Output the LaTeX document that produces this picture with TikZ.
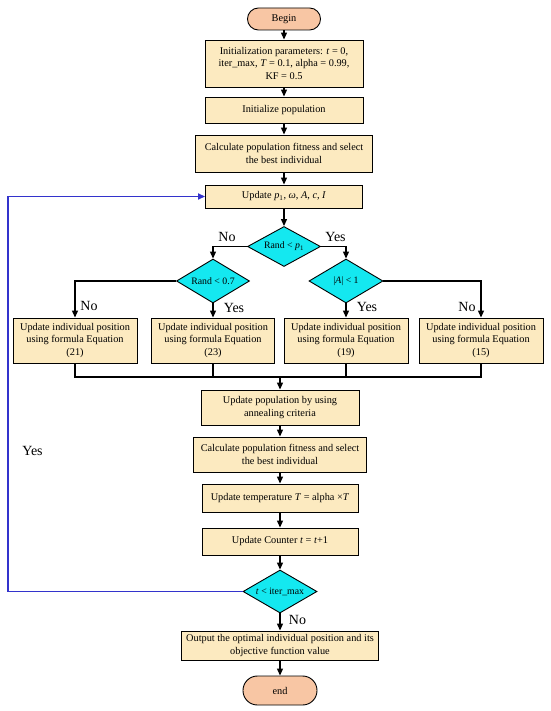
\documentclass[tikz,border=0pt]{standalone}
\usepackage{fontspec}
\setmainfont{Liberation Serif}
\usetikzlibrary{shapes.geometric,arrows.meta}
\definecolor{boxfill}{RGB}{252,234,192}
\definecolor{termfill}{RGB}{248,198,164}
\definecolor{decfill}{RGB}{20,232,240}
\definecolor{loopblue}{RGB}{51,51,204}
\begin{document}
\begin{tikzpicture}[x=1pt,y=-1pt,
  box/.style={draw=black, line width=0.9pt, fill=boxfill, align=center, inner sep=1pt, font=\fontsize{10.3}{12.5}\selectfont},
  term/.style={draw=black, line width=0.9pt, fill=termfill, rounded corners=10.9pt, inner sep=1pt, font=\fontsize{10.3}{12}\selectfont},
  dec/.style={diamond, aspect=1.8, draw=black, line width=0.9pt, fill=decfill, inner sep=0pt, font=\fontsize{9.8}{11}\selectfont},
  arr/.style={-{Triangle[length=7pt,width=6pt]}, line width=1.2pt},
  plain/.style={line width=1.2pt},
  lbl/.style={font=\fontsize{14}{16}\selectfont, inner sep=0pt},
]
\useasboundingbox (0,0) rectangle (550,711);

\node[term, minimum width=73pt, minimum height=22pt] (begin) at (284,19) {Begin};
\node[box, minimum width=158pt, minimum height=47pt] (init) at (284,63.5)
  {Initialization parameters: \textit{t} = 0,\\iter\_max, \textit{T} = 0.1, alpha = 0.99,\\KF = 0.5};
\node[box, minimum width=158pt, minimum height=26pt] (initpop) at (284,110) {Initialize population};
\node[box, minimum width=177pt, minimum height=37pt] (calc1) at (284,153.5)
  {Calculate population fitness and select\\the best individual};
\node[box, minimum width=157pt, minimum height=23pt] (upd) at (284,196.5)
  {Update \textit{p}\textsubscript{1}, \textit{ω}, \textit{A}, \textit{c}, \textit{I}};

\node[dec, minimum width=73pt, minimum height=40pt] (d1) at (284,246.5) {Rand < \textit{p}\textsubscript{1}};
\node[dec, minimum width=73pt, minimum height=44pt] (d2) at (213,281) {Rand < 0.7};
\node[dec, minimum width=74pt, minimum height=44pt] (d3) at (346,281) {|\textit{A}| < 1};

\node[box, minimum width=124pt, minimum height=45pt] (b1) at (75,340.5)
  {Update individual position\\using formula Equation\\(21)};
\node[box, minimum width=123pt, minimum height=45pt] (b2) at (213,340.5)
  {Update individual position\\using formula Equation\\(23)};
\node[box, minimum width=124pt, minimum height=45pt] (b3) at (346,340.5)
  {Update individual position\\using formula Equation\\(19)};
\node[box, minimum width=124pt, minimum height=45pt] (b4) at (481,340.5)
  {Update individual position\\using formula Equation\\(15)};

\coordinate (mg) at (280,377);

\node[box, minimum width=158pt, minimum height=35pt] (uppop) at (280,407.5)
  {Update population by using\\annealing criteria};
\node[box, minimum width=173pt, minimum height=35pt] (calc2) at (280,454.5)
  {Calculate population fitness and select\\the best individual};
\node[box, minimum width=156pt, minimum height=28pt] (temp) at (280,498)
  {Update temperature \textit{T} = alpha ×\textit{T}};
\node[box, minimum width=156pt, minimum height=27pt] (cnt) at (280,541.5)
  {Update Counter \textit{t} = \textit{t}+1};
\node[dec, minimum width=74pt, minimum height=43pt] (d4) at (280,591.5) {\textit{t} < iter\_max};
\node[box, minimum width=197pt, minimum height=29pt] (out) at (280,645.5)
  {Output the optimal individual position and its\\objective function value};
\node[term, minimum width=74pt, minimum height=29pt, rounded corners=14.4pt] (end) at (280,690.5) {end};

% main flow
\draw[arr] (begin) -- (init);
\draw[arr] (init) -- (initpop);
\draw[arr] (initpop) -- (calc1);
\draw[arr] (calc1) -- (upd);
\draw[arr] (upd) -- (d1);
\draw[arr] (d1.west) -| (d2.north);
\draw[arr] (d1.east) -| (d3.north);
\draw[arr] (d2.west) -| (b1.north);
\draw[arr] (d2.south) -- (b2.north);
\draw[arr] (d3.south) -- (b3.north);
\draw[arr] (d3.east) -| (b4.north);

\draw[plain] (b1.south) |- (b4.south |- mg) -- (b4.south);
\draw[plain] (b2.south) -- (b2.south |- mg);
\draw[plain] (b3.south) -- (b3.south |- mg);
\draw[arr] (mg) -- (uppop.north);

\draw[arr] (uppop) -- (calc2);
\draw[arr] (calc2) -- (temp);
\draw[arr] (temp) -- (cnt);
\draw[arr] (cnt) -- (d4);
\draw[arr] (d4) -- (out);
\draw[arr] (out) -- (end);

% loop back
\coordinate (lp) at (8,592);
\draw[arr, draw=loopblue, line width=1.6pt] (d4.west) -- (d4.west -| lp) |- (upd.west);

% labels
\node[lbl] (lno1) at (227,237) {No};
\node[lbl] (lyes1) at (335.5,237) {Yes};
\node[lbl] (lno2) at (89,306) {No};
\node[lbl] (lyes2) at (234,308) {Yes};
\node[lbl] (lyes3) at (367,307) {Yes};
\node[lbl] (lno3) at (467,307) {No};
\node[lbl] (lno4) at (297.5,620) {No};
\node[lbl] (lyes4) at (32.5,451) {Yes};
\end{tikzpicture}
\end{document}
